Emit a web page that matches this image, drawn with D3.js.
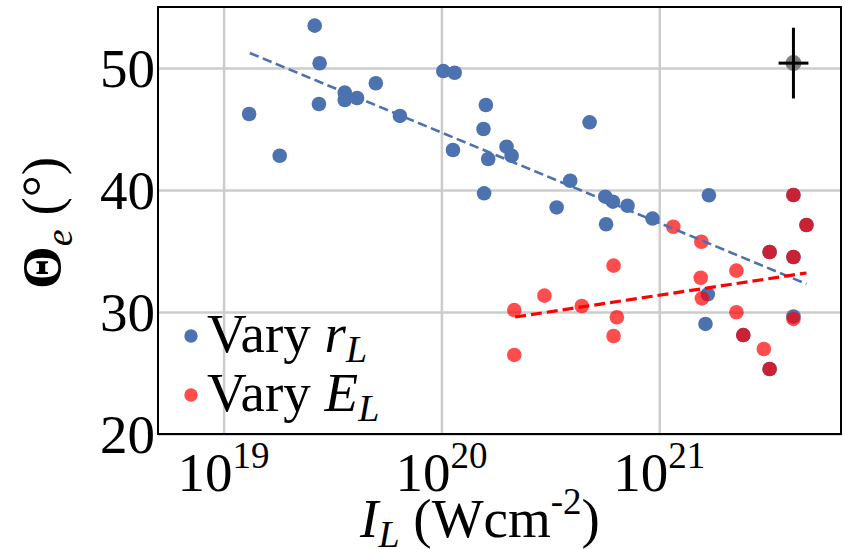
<!DOCTYPE html>
<html>
<head>
<meta charset="utf-8">
<script src="https://cdn.jsdelivr.net/npm/d3@7"></script>
<style>
  svg text, svg tspan { font-family: "Liberation Serif", Tinos, "Times New Roman", serif; }
</style>
</head>
<body style="margin:0">
<script>
// vary r_L (blue)
var blueI = [2.62e19, 2.76e19, 1.31e19, 1.81e19, 2.74e19, 3.60e19, 3.60e19, 4.10e19, 5.0e19, 6.45e19,
             1.02e20, 1.15e20, 1.60e20, 1.56e20, 1.13e20, 1.64e20, 1.57e20, 1.99e20, 2.10e20, 4.79e20,
             3.90e20, 3.38e20, 5.65e20, 6.13e20, 7.15e20, 9.31e20, 1.69e21, 5.70e20, 1.67e21, 1.63e21,
             4.13e21, 4.74e21, 3.21e21, 4.13e21, 4.13e21, 2.43e21, 3.21e21];
var blueTheta = [53.47, 50.39, 46.23, 42.81, 47.05, 47.98, 47.38, 47.54, 48.75, 46.07,
                 49.75, 49.61, 46.97, 45.0, 43.28, 42.54, 39.73, 43.55, 42.81, 45.55,
                 40.76, 38.57, 39.45, 39.04, 38.71, 37.66, 39.57, 37.19, 31.45, 29.02,
                 39.59, 37.13, 34.92, 34.51, 29.63, 28.11, 25.33];

// vary E_L (red)
var redI = [1.16e21, 1.56e21, 6.17e20, 1.55e21, 2.26e21, 2.97e20, 4.41e20, 2.16e20, 6.39e20, 6.17e20,
            2.16e20, 1.57e21, 2.26e21, 3.02e21,
            4.13e21, 4.74e21, 3.21e21, 4.13e21, 4.13e21, 2.43e21, 3.21e21];
var redTheta = [36.99, 35.76, 33.80, 32.81, 33.39, 31.34, 30.49, 30.16, 29.57, 28.03,
                26.48, 31.12, 29.98, 26.97,
                39.59, 37.13, 34.92, 34.51, 29.43, 28.11, 25.33];

// fitted trends
var blueFitI = [1.32e19, 4.74e21], blueFitTheta = [51.23, 32.30];
var redFitI = [2.18e20, 4.74e21], redFitTheta = [29.59, 33.20];

// typical error bar
var errI = 4.13e21, errIlo = 3.53e21, errIhi = 4.84e21;
var errTheta = 50.4, errThetaLo = 47.5, errThetaHi = 53.3;

var xTicks = [1e19, 1e20, 1e21];
var yTicks = [20, 30, 40, 50];

var serif = "'Liberation Serif', Tinos, 'Times New Roman', serif";

var margin = {top: 7, right: 3, bottom: 115, left: 158},
    width = 845 - margin.left - margin.right,
    height = 549 - margin.top - margin.bottom;

var svg = d3.select("body")
  .append("svg")
  .attr("width", 845)
  .attr("height", 549);

// text helper: pieces = [[string, size, dy, style, weight], ...]
function label(px, py, anchor, rot, pieces) {
  var t = svg.append("text")
    .attr("transform", "translate(" + px + "," + py + ") rotate(" + rot + ")")
    .style("font-family", serif)
    .attr("text-anchor", anchor)
    .attr("font-size", 55)
    .attr("fill", "#000");
  pieces.forEach(function(p) {
    var s = t.append("tspan")
      .attr("font-size", p[1])
      .text(p[0]);
    if (p[2]) s.attr("dy", p[2]);
    if (p[3]) s.attr("font-style", p[3]);
    if (p[4]) s.attr("font-weight", p[4]);
  });
  return t;
}

var canvas = svg.append("g")
  .attr("transform", "translate(" + margin.left + "," + margin.top + ")");

var x = d3.scaleLog().domain([5e18, 6.9e21]).range([0, width]);
var y = d3.scaleLinear().domain([20, 55]).range([height, 0]);

var blue = "#4c72b0", red = "rgba(255,0,0,0.7)";

// gridlines
var yGrid = canvas.append("g")
  .call(d3.axisLeft(y).tickValues(yTicks).tickSize(-width).tickFormat(""));
yGrid.select(".domain").remove();
yGrid.selectAll("line").attr("stroke", "#cccccc").attr("stroke-width", 2.5);

var xGrid = canvas.append("g")
  .attr("transform", "translate(0," + height + ")")
  .call(d3.axisBottom(x).tickValues(xTicks).tickSize(-height).tickFormat(""));
xGrid.select(".domain").remove();
xGrid.selectAll("line").attr("stroke", "#cccccc").attr("stroke-width", 2.5);

// tick labels
yTicks.forEach(function(d) {
  label(margin.left - 3, margin.top + y(d) + 19, "end", 0, [[String(d), 55]]);
});
xTicks.forEach(function(d) {
  label(margin.left + x(d), margin.top + height + 57, "middle", 0,
        [["10", 55], [String(Math.round(Math.log10(d))), 37, -23]]);
});

// points
canvas.append("g").selectAll("circle")
  .data(d3.zip(blueI, blueTheta))
  .enter().append("circle")
  .attr("cx", d => x(d[0]))
  .attr("cy", d => y(d[1]))
  .attr("r", 7.3)
  .attr("fill", blue);

canvas.append("g").selectAll("circle")
  .data(d3.zip(redI, redTheta))
  .enter().append("circle")
  .attr("cx", d => x(d[0]))
  .attr("cy", d => y(d[1]))
  .attr("r", 7.3)
  .attr("fill", red);

// trend lines
var line = d3.line().x(d => x(d[0])).y(d => y(d[1]));
canvas.append("path")
  .datum(d3.zip(blueFitI, blueFitTheta))
  .attr("d", line)
  .attr("fill", "none")
  .attr("stroke", blue)
  .attr("stroke-width", 2.6)
  .attr("stroke-dasharray", "9.5,4.5");
canvas.append("path")
  .datum(d3.zip(redFitI, redFitTheta))
  .attr("d", line)
  .attr("fill", "none")
  .attr("stroke", "#ff0000")
  .attr("stroke-width", 3.2)
  .attr("stroke-dasharray", "11,5");

// error bar
canvas.append("circle")
  .attr("cx", x(errI)).attr("cy", y(errTheta))
  .attr("r", 8).attr("fill", "#7f7f7f");
canvas.append("line")
  .attr("x1", x(errI)).attr("x2", x(errI))
  .attr("y1", y(errThetaLo)).attr("y2", y(errThetaHi))
  .attr("stroke", "#000").attr("stroke-width", 3);
canvas.append("line")
  .attr("x1", x(errIlo)).attr("x2", x(errIhi))
  .attr("y1", y(errTheta)).attr("y2", y(errTheta))
  .attr("stroke", "#000").attr("stroke-width", 3);

// frame
canvas.append("rect")
  .attr("width", width - 1).attr("height", height)
  .attr("fill", "none")
  .attr("stroke", "#000")
  .attr("stroke-width", 2);

// legend
[[blue, "r", 352], [red, "E", 411]].forEach(function(it) {
  svg.append("circle")
    .attr("cx", 191).attr("cy", it[2] - 16)
    .attr("r", 6.7).attr("fill", it[0]);
  label(207, it[2], "start", 0,
        [["Vary ", 55], [it[1], 55, 0, "italic"], ["L", 38, 10, "italic"]]);
});

// axis labels
label(480, 537, "middle", 0,
      [["I", 55, 0, "italic"], ["L", 38, 10, "italic"], [" (Wcm", 55, -10],
       ["-2", 37, -23], [")", 55, 23]]);
label(60, 223, "middle", -90,
      [["Θ", 55, 0, null, "bold"], ["e", 38, 12, "italic"], [" (°)", 55, -12]]);
</script>
</body>
</html>
